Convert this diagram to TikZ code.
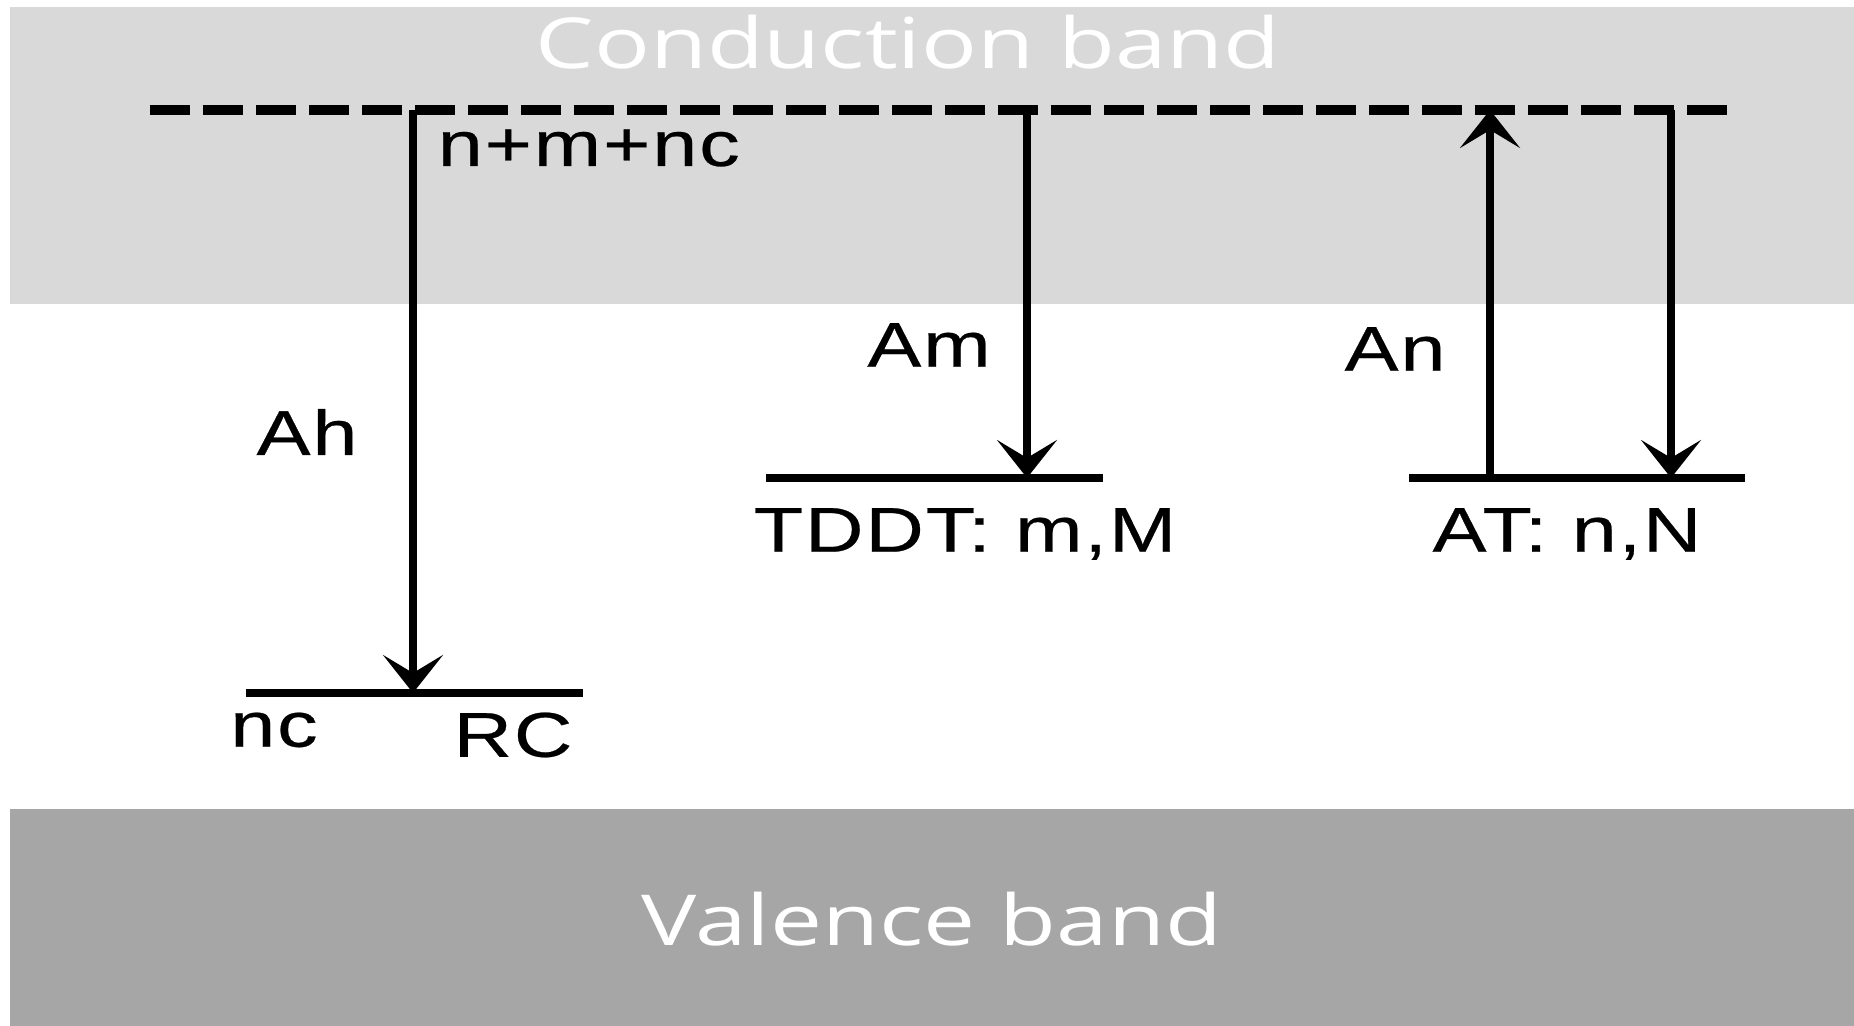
\documentclass[tikz,border=0pt]{standalone}
\usepackage{fontspec}
\usetikzlibrary{arrows.meta}
\newfontfamily\lblfont{Liberation Sans}[FakeStretch=1.28,LetterSpace=3,FakeBold=0.4]
\newfontfamily\bandfont{Open Sans}[FakeStretch=1.32]
\definecolor{cbcond}{HTML}{D9D9D9}
\definecolor{cbval}{HTML}{A6A6A6}
\begin{document}
\begin{tikzpicture}[
  trans/.style={-{Stealth[length=3.8mm,width=6mm,inset=1.8mm]}, line width=2.3pt},
  level/.style={line width=2.3pt},
  lbl/.style={font=\lblfont\fontsize{18}{20}\selectfont, inner sep=0pt},
  bandlbl/.style={font=\bandfont\fontsize{20}{22}\selectfont, text=white, inner sep=0pt, anchor=base}
]
\useasboundingbox (0,0) rectangle (18.54,10.26);
\def\yc{9.16}
\def\yt{5.48}
% bands
\fill[cbcond] (0.095,7.22) rectangle (18.54,10.19);
\fill[cbval] (0.095,0) rectangle (18.54,2.17);
\node[bandlbl] (cb) at (9.08,9.57) {Conduction band};
\node[bandlbl] (vb) at (9.32,0.80) {Valence band};
\draw[level, line width=2.8pt, dash pattern=on 4mm off 1.3mm] (1.50,\yc) -- (17.32,\yc);
% levels
\draw[level] (2.46,3.33) -- (5.83,3.33);
\draw[level] (7.66,\yt) -- (11.03,\yt);
\draw[level] (14.09,\yt) -- (17.45,\yt);
\coordinate (h0) at (4.13,\yc);
\coordinate (h1) at (4.13,3.33);
\coordinate (m0) at (10.27,\yc);
\coordinate (m1) at (10.27,\yt);
\coordinate (n0) at (14.90,\yt);
\coordinate (n1) at (14.90,\yc);
\coordinate (r0) at (16.71,\yc);
\coordinate (r1) at (16.71,\yt);
% transitions
\draw[trans] (h0) -- (h1);
\draw[trans] (m0) -- (m1);
\draw[trans] (n0) -- (n1);
\draw[trans] (r0) -- (r1);
% labels
\node[lbl, anchor=west] (ntot) at (4.37,8.78) {n+m+nc};
\node[lbl] (ah) at (3.07,5.94) {Ah};
\node[lbl] (nc) at (2.74,2.96) {nc};
\node[lbl] (rc) at (5.13,2.91) {RC};
\node[lbl] (am) at (9.29,6.81) {Am};
\node[lbl] (tddt) at (9.65,4.92) {TDDT: m,M};
\node[lbl] (an) at (13.95,6.77) {An};
\node[lbl] (at) at (15.67,4.92) {AT: n,N};
\end{tikzpicture}
\end{document}
